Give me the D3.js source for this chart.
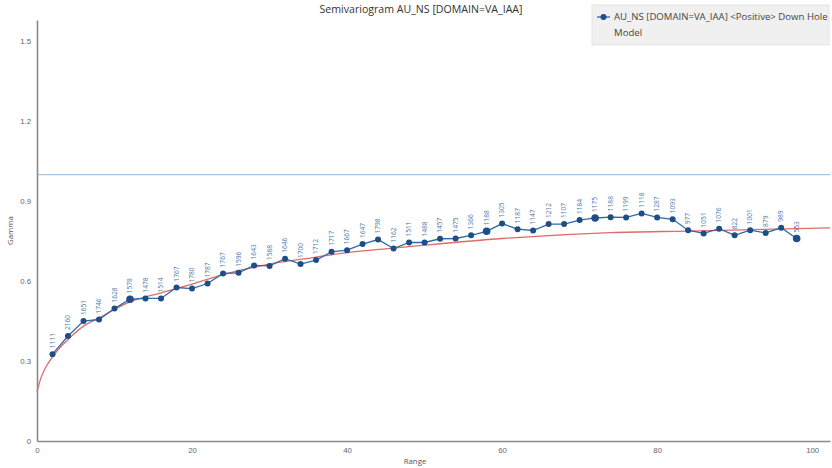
<!DOCTYPE html>
<html>
<head>
<meta charset="utf-8">
<script src="https://cdn.jsdelivr.net/npm/d3@7"></script>
<style>
  body { margin: 0; background: #fff; }
  svg { display: block; font-family: "Open Sans", "Noto Sans", sans-serif; }
</style>
</head>
<body>
<div id="chart"></div>
<script>
// experimental semivariogram (lag, gamma, pairs)
const lags = [2,4,6,8,10,12,14,16,18,20,22,24,26,28,30,32,34,36,38,40,42,44,46,48,50,
              52,54,56,58,60,62,64,66,68,70,72,74,76,78,80,82,84,86,88,90,92,94,96,98]
const gammas = [0.326,0.394,0.450,0.456,0.497,0.532,0.535,0.535,0.576,0.572,0.591,0.629,0.631,0.659,0.657,0.684,0.664,0.679,0.710,0.716,0.739,0.756,0.722,0.745,0.745,
                0.759,0.760,0.772,0.787,0.816,0.795,0.790,0.814,0.814,0.829,0.837,0.840,0.839,0.854,0.839,0.832,0.791,0.779,0.797,0.772,0.791,0.781,0.800,0.760]
const pairs = [1111,2160,1651,1746,1628,1578,1478,1514,1767,1780,1787,1767,1596,1643,1588,1646,1700,1712,1717,1667,1647,1798,1162,1511,1488,
               1457,1475,1366,1188,1305,1187,1147,1212,1107,1184,1175,1188,1199,1118,1287,1093,977,1051,1076,822,1001,879,989,553]
const bigPoints = [12,58,72,98]

// model curve
const modelLag = [0,0.5,1,2,3,4,6,8,10,12,16,20,24,30,36,40,46,50,60,74,84,98,102.3]
const modelGamma = [0.185,0.236,0.27,0.316,0.352,0.381,0.431,0.462,0.494,0.522,0.556,0.589,0.624,0.664,0.690,0.707,0.724,0.735,0.760,0.782,0.788,0.797,0.800]

const sill = 1.0
const xTicks = [0,20,40,60,80,100]
const yTicks = [0,0.3,0.6,0.9,1.2,1.5]

const title = "Semivariogram AU_NS [DOMAIN=VA_IAA]"
const legendLine1 = "AU_NS [DOMAIN=VA_IAA] <Positive> Down Hole"
const legendLine2 = "Model"

let width = 832, height = 468

let svg = d3.select("#chart").append("svg")
    .attr("width", width)
    .attr("height", height)

let x = d3.scaleLinear().domain([0, 102.3]).range([37, 830])
let y = d3.scaleLinear().domain([0, 1.58]).range([441, 20])

const axisColor = "#8a8a8a", tickColor = "#666"

//AXES
let xAxis = svg.append("g")
    .attr("transform", "translate(0," + y(0) + ")")
    .call(d3.axisBottom(x).tickValues(xTicks).tickSize(0).tickPadding(6).tickFormat(d3.format("d")))
let yAxis = svg.append("g")
    .attr("transform", "translate(" + x(0) + ",0)")
    .call(d3.axisLeft(y).tickValues(yTicks).tickSize(0).tickPadding(6).tickFormat(d => d === 0 ? "0" : d3.format(".1f")(d)))
;[xAxis, yAxis].forEach(a => {
    a.select(".domain").attr("stroke", axisColor).attr("stroke-width", 1.6)
    a.selectAll("text").attr("fill", tickColor).attr("font-size", 7.8)
})

//SILL
svg.append("line")
    .attr("x1", x(0) + 1).attr("x2", x(102.3))
    .attr("y1", y(sill)).attr("y2", y(sill))
    .attr("stroke", "#a9c3e3").attr("stroke-width", 1.2)

//MODEL
svg.append("path")
    .datum(modelLag.map((l, i) => [l, modelGamma[i]]))
    .attr("fill", "none")
    .attr("stroke", "#e06b6b")
    .attr("stroke-width", 1.3)
    .attr("d", d3.line().x(d => x(d[0])).y(d => y(d[1])).curve(d3.curveMonotoneX))

//EXPERIMENTAL
let pts = lags.map((l, i) => ({lag: l, g: gammas[i], n: pairs[i]}))
svg.append("path")
    .datum(pts)
    .attr("fill", "none")
    .attr("stroke", "#2f6aa8")
    .attr("stroke-width", 1.3)
    .attr("d", d3.line().x(d => x(d.lag)).y(d => y(d.g)))

svg.append("g").selectAll("circle")
    .data(pts)
    .enter().append("circle")
    .attr("cx", d => x(d.lag))
    .attr("cy", d => y(d.g))
    .attr("r", d => bigPoints.includes(d.lag) ? 3.8 : 3)
    .attr("fill", "#1d4f86")

//PAIR LABELS
svg.append("g").selectAll("text")
    .data(pts)
    .enter().append("text")
    .attr("transform", d => "translate(" + (x(d.lag) + 2.2) + "," + (y(d.g) - 6) + ") rotate(-90)")
    .attr("font-size", 6.6)
    .attr("fill", "#4a78ad")
    .text(d => d.n)

//TITLES
svg.append("text")
    .attr("x", 421).attr("y", 13)
    .attr("text-anchor", "middle")
    .attr("font-size", 10.6)
    .attr("fill", "#333")
    .text(title)

svg.append("text")
    .attr("transform", "translate(13," + y(0.79) + ") rotate(-90)")
    .attr("text-anchor", "middle")
    .attr("font-size", 7.8)
    .attr("fill", "#555")
    .text("Gamma")

svg.append("text")
    .attr("x", 415).attr("y", 464)
    .attr("text-anchor", "middle")
    .attr("font-size", 7.8)
    .attr("fill", "#555")
    .text("Range")

//LEGEND
let legend = svg.append("g")
legend.append("rect")
    .attr("x", 592).attr("y", 5)
    .attr("width", 237).attr("height", 40)
    .attr("fill", "#f0f0f0")
    .attr("stroke", "#e4e4e4")
legend.append("line")
    .attr("x1", 597).attr("x2", 610).attr("y1", 17).attr("y2", 17)
    .attr("stroke", "#2f6aa8").attr("stroke-width", 1.3)
legend.append("circle")
    .attr("cx", 603.5).attr("cy", 17).attr("r", 3)
    .attr("fill", "#1d4f86")
legend.append("text")
    .attr("x", 614).attr("y", 20)
    .attr("font-size", 9.6)
    .attr("fill", "#444")
    .text(legendLine1)
legend.append("text")
    .attr("x", 614).attr("y", 36)
    .attr("font-size", 9.6)
    .attr("fill", "#444")
    .text(legendLine2)
</script>
</body>
</html>
